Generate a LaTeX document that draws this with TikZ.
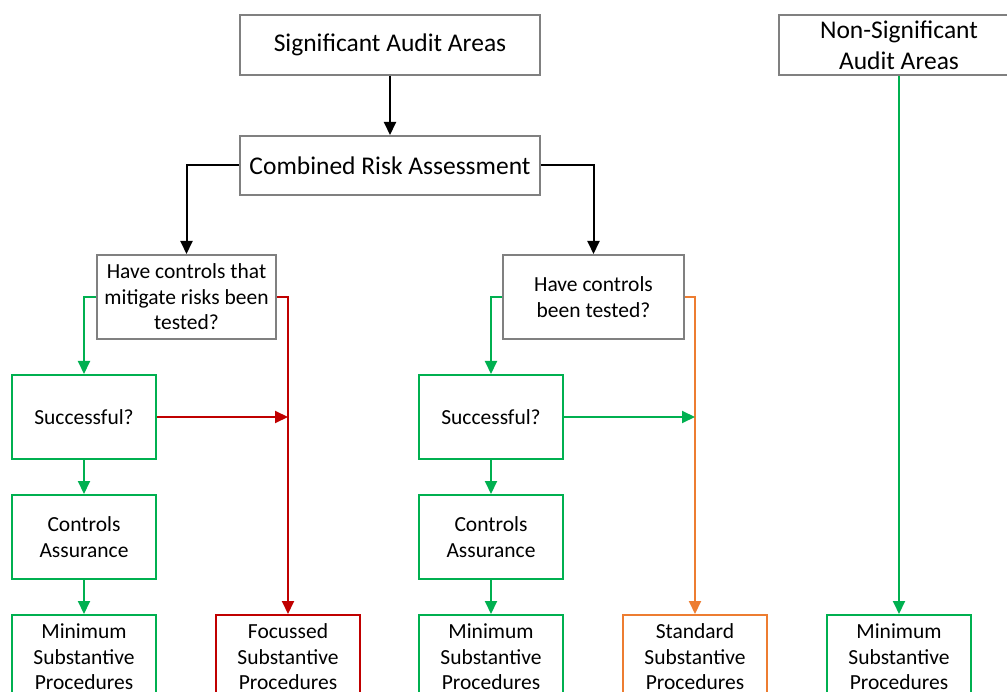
\documentclass[tikz,border=0pt]{standalone}
\usepackage{fontspec}
\setmainfont{Carlito}
\usetikzlibrary{arrows.meta}
\definecolor{okgreen}{RGB}{0,176,80}
\definecolor{riskred}{RGB}{192,0,0}
\definecolor{stdorange}{RGB}{237,125,49}
\definecolor{boxgray}{RGB}{128,128,128}
\tikzset{
  box/.style={draw, line width=2pt, fill=white, inner sep=2pt, align=center,
    font=\fontsize{21.5}{25.5}\selectfont},
  graybox/.style={box, draw=boxgray},
  bigtext/.style={font=\fontsize{25.5}{31}\selectfont},
  greenbox/.style={box, draw=okgreen, minimum width=144pt, minimum height=84pt},
  conn/.style={line width=2pt, -{Triangle[length=13pt,width=12pt]}},
}
\begin{document}
\begin{tikzpicture}[x=1pt,y=-1pt]
\useasboundingbox (0,0) rectangle (1007,692);
\clip (0,0) rectangle (1007,692);
\fill[white] (0,0) rectangle (1007,692);

% top row
\node[graybox, bigtext, minimum width=300pt, minimum height=60pt] (saa) at (390,45) {Significant Audit Areas};
\node[graybox, bigtext, minimum width=300pt, minimum height=59pt] (cra) at (390,165.5) {Combined Risk Assessment};
\node[graybox, bigtext, minimum width=240pt, minimum height=60pt] (nsa) at (899,45) {Non-Significant\\Audit Areas};

% decisions
\node[graybox, minimum width=179pt, minimum height=84pt] (dl) at (186.5,297) {Have controls that\\mitigate risks been\\tested?};
\node[graybox, minimum width=181pt, minimum height=84pt] (dr) at (593.5,297) {Have controls\\been tested?};

% left branch
\node[greenbox] (sl) at (84,417) {Successful?};
\node[greenbox] (cl) at (84,537) {Controls\\Assurance};
\node[greenbox] (ml) at (84,657) {Minimum\\Substantive\\Procedures};
\node[greenbox, draw=riskred] (fsp) at (288,657) {Focussed\\Substantive\\Procedures};

% right branch
\node[greenbox] (sr) at (491,417) {Successful?};
\node[greenbox] (cr) at (491,537) {Controls\\Assurance};
\node[greenbox] (mr) at (491,657) {Minimum\\Substantive\\Procedures};
\node[greenbox, draw=stdorange] (ssp) at (695,657) {Standard\\Substantive\\Procedures};

% non-significant branch
\node[greenbox] (mn) at (899,657) {Minimum\\Substantive\\Procedures};

% connectors
\draw[conn] (saa.south) -- (cra.north);
\draw[conn] (cra.west) -| (dl.north);
\draw[conn] (cra.east) -| (dr.north);

\draw[conn, okgreen] (dl.west) -| (sl.north);
\draw[conn, riskred] (dl.east) -| (fsp.north);
\draw[conn, riskred] (sl.east) -- (sl.east -| fsp.north);
\draw[conn, okgreen] (sl.south) -- (cl.north);
\draw[conn, okgreen] (cl.south) -- (ml.north);

\draw[conn, okgreen] (dr.west) -| (sr.north);
\draw[conn, stdorange] (dr.east) -| (ssp.north);
\draw[conn, okgreen] (sr.east) -- (sr.east -| ssp.north);
\draw[conn, okgreen] (sr.south) -- (cr.north);
\draw[conn, okgreen] (cr.south) -- (mr.north);

\draw[conn, okgreen] (nsa.south) -- (mn.north);
\end{tikzpicture}
\end{document}
